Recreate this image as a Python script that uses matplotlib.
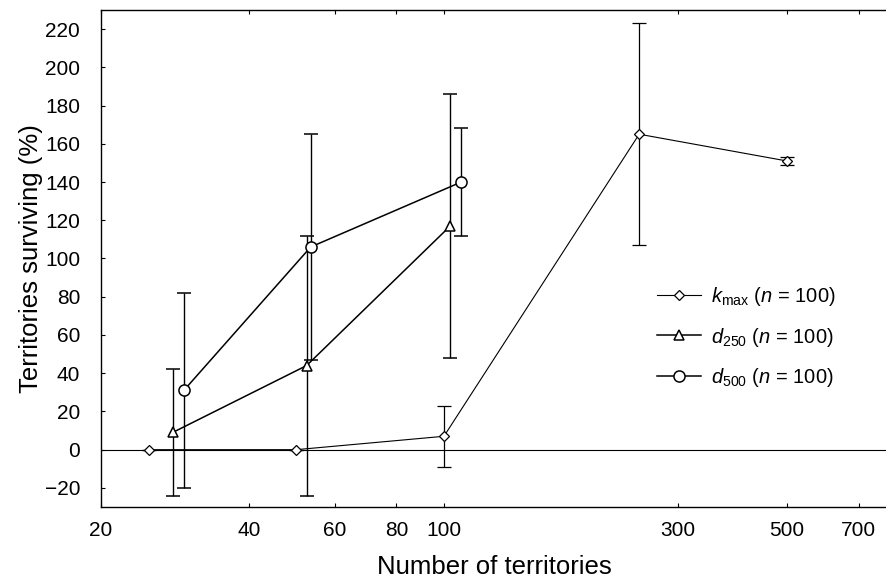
import matplotlib
matplotlib.use("Agg")
import matplotlib.pyplot as plt
from matplotlib.ticker import FixedLocator, NullLocator, FixedFormatter

plt.rcParams['font.family'] = ['Liberation Sans', 'DejaVu Sans']
plt.rcParams['mathtext.fontset'] = 'custom'
plt.rcParams['mathtext.rm'] = 'Liberation Sans'
plt.rcParams['mathtext.it'] = 'Liberation Sans:italic'

# k_max series
kmax_x = [25, 50, 100, 250, 500]
kmax_y = [0, 0, 7, 165, 151]
kmax_err = [0, 0, 16, 58, 2]

# d250 series
d250_x = [28, 52.5, 103]
d250_y = [9, 44, 117]
d250_err = [33, 68, 69]

# d500 series
d500_x = [29.5, 53.5, 108.5]
d500_y = [31, 106, 140]
d500_err = [51, 59, 28.5]

xticks = [20, 40, 60, 80, 100, 300, 500, 700]
yticks = list(range(-20, 221, 20))

fig = plt.figure(figsize=(8.87, 5.84), dpi=100)
ax = fig.add_axes([0.1139, 0.1318, 0.8861, 0.8512])

ax.axhline(0, color='black', lw=0.8, zorder=1)

c1 = ax.errorbar(kmax_x, kmax_y, yerr=kmax_err, color='black', lw=0.8,
                 marker='D', ms=5, mfc='white', mec='black', mew=0.9,
                 capsize=5, elinewidth=0.9, capthick=0.9)
c2 = ax.errorbar(d250_x, d250_y, yerr=d250_err, color='black', lw=1.1,
                 marker='^', ms=7, mfc='white', mec='black', mew=1.1,
                 capsize=5, elinewidth=1.0, capthick=1.0)
c3 = ax.errorbar(d500_x, d500_y, yerr=d500_err, color='black', lw=1.1,
                 marker='o', ms=8, mfc='white', mec='black', mew=1.1,
                 capsize=5, elinewidth=1.0, capthick=1.0)

labels = [r'$k_{\mathrm{max}}$ ($n$ = 100)',
          r'$d_{250}$ ($n$ = 100)',
          r'$d_{500}$ ($n$ = 100)']

ax.set_xscale('log')
ax.set_xlim(20, 800)
ax.set_ylim(-30, 230)
ax.xaxis.set_major_locator(FixedLocator(xticks))
ax.xaxis.set_major_formatter(FixedFormatter([str(t) for t in xticks]))
ax.xaxis.set_minor_locator(NullLocator())
ax.set_yticks(yticks)
ax.tick_params(direction='in', length=3, width=0.8, labelsize=15,
               top=True, pad=10)
ax.tick_params(axis='y', pad=15)

ax.spines['right'].set_visible(False)
for s in ['left', 'top', 'bottom']:
    ax.spines[s].set_linewidth(1.0)

ax.set_xlabel('Number of territories', fontsize=18.5, labelpad=11)
ax.set_ylabel('Territories surviving (%)', fontsize=18.5, labelpad=1)

leg = ax.legend([c1[0], c2[0], c3[0]], labels, loc='center left',
                bbox_to_anchor=(0.707, 0.342), frameon=False,
                borderpad=0, borderaxespad=0,
                fontsize=14.5, handlelength=2.2, labelspacing=0.85,
                handletextpad=0.5)

fig.savefig('out.png', dpi=100)
